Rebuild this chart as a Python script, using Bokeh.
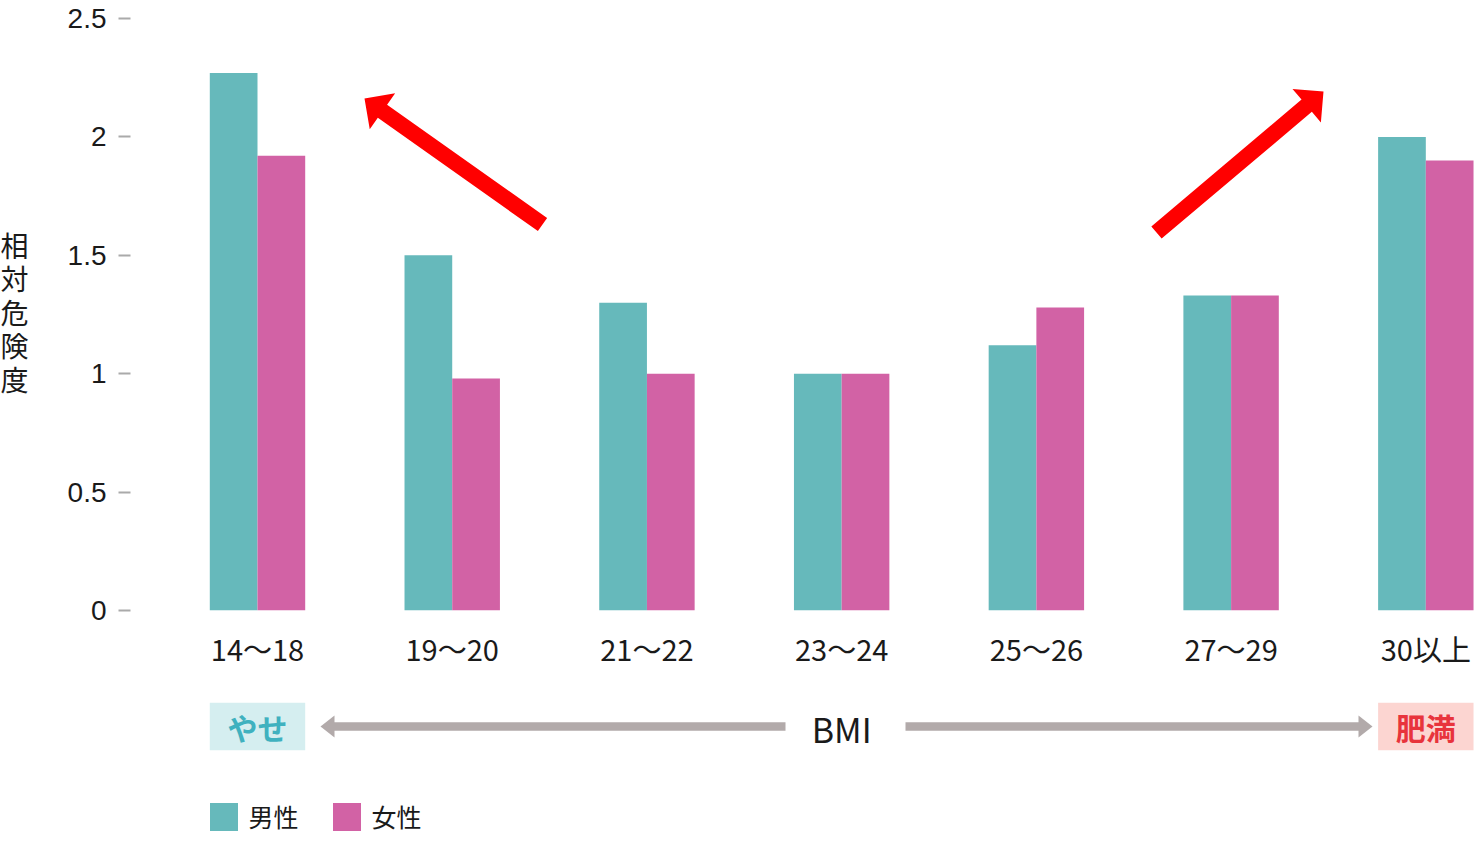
import math
from bokeh.plotting import figure
from bokeh.models import (Range1d, FixedTicker, ColumnDataSource,
                          Legend, LegendItem)
from bokeh.layouts import column, row
from bokeh.embed import file_html
from bokeh.resources import INLINE
from bokeh.core.properties import value
from bokeh.transform import dodge

# ---------------- data ----------------
categories = ["14〜18", "19〜20", "21〜22", "23〜24", "25〜26", "27〜29", "30以上"]
male = [2.27, 1.50, 1.30, 1.00, 1.12, 1.33, 2.00]
female = [1.92, 0.98, 1.00, 1.00, 1.28, 1.33, 1.90]
series_names = ["男性", "女性"]
y_ticks = [0, 0.5, 1, 1.5, 2, 2.5]
y_tick_labels = ["0", "0.5", "1", "1.5", "2", "2.5"]
y_title = "相対危険度"
band_labels = ["やせ", "BMI", "肥満"]

# ---------------- styles ----------------
FONT = "Noto Sans CJK JP"
NUM_FONT = "Liberation Sans"
MALE_C = "#66b9bb"
FEMALE_C = "#d262a5"
TXT = "#1a1a1a"
GRAY = "#b2aaaa"
RED = "#ff0000"

TOTAL_W, TOTAL_H = 1474, 834
TITLE_W = 40
FRAME_LEFT = 130            # px from page-left of the plot frame
TOP_H = 690                 # height of the bar chart part
BW = 0.245                  # bar width (data units)

# x mapping: group 0 centre at 257 px, right frame edge at TOTAL_W
PX_PER_X = (TOTAL_W - 257) / (len(categories) - 1 + BW + 0.005)
X_START = -(257 - FRAME_LEFT) / PX_PER_X
X_END = X_START + (TOTAL_W - FRAME_LEFT) / PX_PER_X

# y mapping for the bar chart
Y0_PX, Y25_PX = 610.0, 18.0
PX_PER_Y = (Y0_PX - Y25_PX) / 2.5
Y_TOP = 2.5 + Y25_PX / PX_PER_Y
BOTTOM_BORDER = int(TOP_H - Y0_PX)


def dx(px):
    return X_START + (px - FRAME_LEFT) / PX_PER_X


def fy(py):
    return (Y0_PX - py) / PX_PER_Y


def arrow_poly(tail, tip, shaft_w, head_w, head_l):
    (tx, ty), (hx, hy) = tail, tip
    L = math.hypot(hx - tx, hy - ty)
    ux, uy = (hx - tx) / L, (hy - ty) / L
    nx, ny = -uy, ux
    bx, by = hx - ux * head_l, hy - uy * head_l
    s, h = shaft_w / 2, head_w / 2
    pts = [(tx + nx * s, ty + ny * s), (bx + nx * s, by + ny * s),
           (bx + nx * h, by + ny * h), (hx, hy),
           (bx - nx * h, by - ny * h), (bx - nx * s, by - ny * s),
           (tx - nx * s, ty - ny * s)]
    return [p[0] for p in pts], [p[1] for p in pts]


def clean(fig):
    fig.outline_line_color = None
    fig.xgrid.grid_line_color = None
    fig.ygrid.grid_line_color = None
    fig.background_fill_color = "white"
    fig.border_fill_color = "white"


y_range = Range1d(0, Y_TOP)

# ---------------- y title (stacked characters) ----------------
pt = figure(width=TITLE_W, height=TOP_H,
            x_range=Range1d(0, TITLE_W), y_range=y_range,
            output_backend="svg", toolbar_location=None,
            x_axis_location=None, y_axis_location=None,
            min_border_left=0, min_border_right=0,
            min_border_top=0, min_border_bottom=BOTTOM_BORDER)
clean(pt)
chars = list(y_title)
pt.text(x=[14] * len(chars),
        y=[fy(244 + 33.6 * i) for i in range(len(chars))],
        text=chars, text_font=value(FONT), text_font_size="28px",
        text_color=TXT, text_align="center", text_baseline="middle")

# ---------------- main chart ----------------
src = ColumnDataSource(dict(x=list(range(len(categories))), cat=categories,
                            male=male, female=female))

p = figure(width=TOTAL_W - TITLE_W, height=TOP_H,
           x_range=Range1d(X_START, X_END), y_range=y_range,
           output_backend="svg", toolbar_location=None,
           min_border_left=FRAME_LEFT - TITLE_W, min_border_right=0,
           min_border_top=0, min_border_bottom=BOTTOM_BORDER)
clean(p)

p.vbar(x=dodge("x", -BW / 2, range=p.x_range), top="male", width=BW,
       source=src, fill_color=MALE_C, line_color=None)
p.vbar(x=dodge("x", BW / 2, range=p.x_range), top="female", width=BW,
       source=src, fill_color=FEMALE_C, line_color=None)

# y axis
ya = p.yaxis[0]
ya.ticker = FixedTicker(ticks=y_ticks)
ya.major_label_overrides = {t: l for t, l in zip(y_ticks, y_tick_labels)}
ya.axis_line_color = None
ya.minor_tick_line_color = None
ya.major_tick_in = 0
ya.major_tick_out = 12
ya.major_tick_line_color = "#aaaaaa"
ya.major_tick_line_width = 2
ya.major_label_standoff = 12
ya.major_label_text_font = NUM_FONT
ya.major_label_text_font_size = "28px"
ya.major_label_text_color = TXT

# x axis
xa = p.xaxis[0]
xa.ticker = FixedTicker(ticks=list(range(len(categories))))
xa.major_label_overrides = {i: c for i, c in enumerate(categories)}
xa.axis_line_color = None
xa.major_tick_line_color = None
xa.minor_tick_line_color = None
xa.major_tick_in = 0
xa.major_tick_out = 0
xa.major_label_standoff = 16
xa.major_label_text_font = FONT
xa.major_label_text_font_size = "29px"
xa.major_label_text_color = TXT

# red trend arrows
axs, ays = [], []
for tail, tip in [((542, 224), (364, 98)), ((1156, 232), (1323, 91))]:
    xs, ys = arrow_poly(tail, tip, 16, 44, 22)
    axs.append([dx(v) for v in xs])
    ays.append([fy(v) for v in ys])
p.patches(xs=axs, ys=ays, fill_color=RED, line_color=None)

# ---------------- BMI band + legend ----------------
p2 = figure(width=TOTAL_W, height=TOTAL_H - TOP_H, x_range=p.x_range,
            y_range=Range1d(842, 690),
            output_backend="svg", toolbar_location=None,
            x_axis_location=None, y_axis_location=None,
            min_border_left=FRAME_LEFT, min_border_right=0,
            min_border_top=0, min_border_bottom=0)
clean(p2)

first, last = 0, len(categories) - 1
p2.quad(left=[first - BW, last - BW], right=[first + BW, last + BW],
        top=[703, 703], bottom=[753, 753],
        fill_color=["#d5eef0", "#fcd5d1"], line_color=None)
p2.text(x=[first, last], y=[729, 729], text=[band_labels[0], band_labels[2]],
        text_color=["#3fb1bf", "#e8343c"], text_font=value(FONT),
        text_font_size="30px", text_font_style="bold",
        text_align="center", text_baseline="middle")
p2.text(x=[3], y=[730], text=[band_labels[1]], text_color=TXT,
        text_font=value(FONT), text_font_size="34px",
        text_align="center", text_baseline="middle")

# gray arrows pointing to both ends
p2.quad(left=[dx(332), dx(905)], right=[dx(785), dx(1360)],
        top=[723.5, 723.5], bottom=[732.5, 732.5],
        fill_color=GRAY, line_color=None)
p2.patches(xs=[[dx(320), dx(334), dx(334)], [dx(1372), dx(1358), dx(1358)]],
           ys=[[728, 716.5, 739.5], [728, 716.5, 739.5]],
           fill_color=GRAY, line_color=None)

# legend (zero-size proxy bars that only carry the colours)
lm = p2.vbar(x=[0], top=[0], bottom=[0], width=0, fill_color=MALE_C,
             line_color=None)
lf = p2.vbar(x=[0], top=[0], bottom=[0], width=0, fill_color=FEMALE_C,
             line_color=None)
legend = Legend(items=[LegendItem(label=series_names[0], renderers=[lm]),
                       LegendItem(label=series_names[1], renderers=[lf])],
                orientation="horizontal", location=(75.5, 0),
                glyph_width=35, glyph_height=35, label_standoff=8,
                spacing=30, padding=0, margin=0,
                border_line_color=None, background_fill_alpha=0,
                label_text_font=FONT, label_text_font_size="25px",
                label_text_color=TXT, label_height=30)
p2.add_layout(legend)

layout = column(row(pt, p, spacing=0), p2, spacing=0)
open("out.html", "w").write(file_html(layout, INLINE))
